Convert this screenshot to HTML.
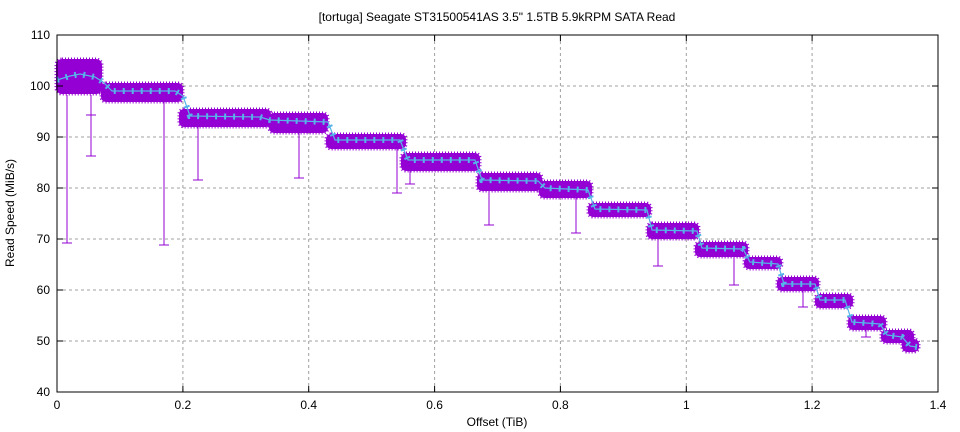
<!DOCTYPE html>
<html><head><meta charset="utf-8"><style>
body{margin:0;background:#fff}
svg{display:block;font-family:"Liberation Sans",sans-serif}
</style></head><body>
<svg width="960" height="432" viewBox="0 0 960 432">
<rect width="960" height="432" fill="#fff"/>
<text x="497" y="21" font-size="12" text-anchor="middle">[tortuga] Seagate ST31500541AS 3.5" 1.5TB 5.9kRPM SATA Read</text>
<g stroke="#a0a0a0" stroke-dasharray="3 3" stroke-width="1">
<line x1="182.9" y1="35" x2="182.9" y2="392"/><line x1="308.7" y1="35" x2="308.7" y2="392"/>
<line x1="434.6" y1="35" x2="434.6" y2="392"/><line x1="560.4" y1="35" x2="560.4" y2="392"/>
<line x1="686.3" y1="35" x2="686.3" y2="392"/><line x1="812.1" y1="35" x2="812.1" y2="392"/>
<line x1="57" y1="86" x2="938" y2="86"/><line x1="57" y1="137" x2="938" y2="137"/>
<line x1="57" y1="188" x2="938" y2="188"/><line x1="57" y1="239" x2="938" y2="239"/>
<line x1="57" y1="290" x2="938" y2="290"/><line x1="57" y1="341" x2="938" y2="341"/>
</g>
<g fill="#9400d3" stroke="#9400d3" stroke-width="3" stroke-dasharray="1 2">
<rect x="56" y="59" width="46" height="35" rx="6"/>
<rect x="101" y="83" width="82" height="19" rx="5"/>
<rect x="179" y="109" width="92" height="18" rx="5"/>
<rect x="269" y="113" width="59" height="20" rx="5"/>
<rect x="326" y="134" width="80" height="15" rx="5"/>
<rect x="401" y="153" width="79" height="18" rx="5"/>
<rect x="477" y="173" width="65" height="18" rx="5"/>
<rect x="539" y="181" width="53" height="17" rx="5"/>
<rect x="588" y="203" width="63" height="14" rx="5"/>
<rect x="647" y="223" width="52" height="16" rx="5"/>
<rect x="695" y="242" width="53" height="15" rx="5"/>
<rect x="744" y="257" width="38" height="12" rx="5"/>
<rect x="777" y="277" width="42" height="14" rx="5"/>
<rect x="815" y="294" width="38" height="14" rx="5"/>
<rect x="848" y="316" width="38" height="14" rx="5"/>
<rect x="881" y="330" width="33" height="13" rx="5"/>
<rect x="902" y="339" width="17" height="13" rx="5"/>
</g>
<g stroke="#9400d3" stroke-width="1">
<path d="M67 95V243M62 243h10M91 95V156M86 156h10M86 115h10M164 100V245M159 245h10M198 125V180M193 180h10M299 132V178M294 178h10M397 148V193M392 193h10M410 170V184M405 184h10M489 190V225M484 225h10M576 197V233M571 233h10M658 238V266M653 266h10M734 256V285M729 285h10M803 290V307M798 307h10M866 329V337M861 337h10"/>
</g>
<polyline fill="none" stroke="#56b4e9" stroke-width="1.2" points="57,80 70,76 80,74 95,77 103,82 112,91 175,91 183,96 190,116 260,117 270,120 328,122 335,140 400,140 408,160 475,160 482,180 538,181 545,188 588,190 595,209 647,210 652,230 697,231 702,248 743,249 750,262 778,264 784,284 815,284 820,300 845,300 852,322 880,324 887,335 902,337 910,346 917,347"/>
<polyline fill="none" stroke="#56b4e9" stroke-width="6" stroke-dasharray="2 7" points="57,80 70,76 80,74 95,77 103,82 112,91 175,91 183,96 190,116 260,117 270,120 328,122 335,140 400,140 408,160 475,160 482,180 538,181 545,188 588,190 595,209 647,210 652,230 697,231 702,248 743,249 750,262 778,264 784,284 815,284 820,300 845,300 852,322 880,324 887,335 902,337 910,346 917,347"/>
<rect x="57" y="35" width="881" height="357" fill="none" stroke="#000" stroke-width="1"/>
<g stroke="#000" stroke-width="1">
<path d="M182.9 392v-6M308.7 392v-6M434.6 392v-6M560.4 392v-6M686.3 392v-6M812.1 392v-6M182.9 35v6M308.7 35v6M434.6 35v6M560.4 35v6M686.3 35v6M812.1 35v6"/>
<path d="M57 86h6M57 137h6M57 188h6M57 239h6M57 290h6M57 341h6M938 86h-6M938 137h-6M938 188h-6M938 239h-6M938 290h-6M938 341h-6"/>
</g>
<g font-size="12" text-anchor="end">
<text x="50" y="39">110</text><text x="50" y="90">100</text><text x="50" y="141">90</text>
<text x="50" y="192">80</text><text x="50" y="243">70</text><text x="50" y="294">60</text>
<text x="50" y="345">50</text><text x="50" y="396">40</text>
</g>
<g font-size="12" text-anchor="middle">
<text x="57" y="409">0</text><text x="182.9" y="409">0.2</text><text x="308.7" y="409">0.4</text>
<text x="434.6" y="409">0.6</text><text x="560.4" y="409">0.8</text><text x="686.3" y="409">1</text>
<text x="812.1" y="409">1.2</text><text x="938" y="409">1.4</text>
<text x="497" y="426">Offset (TiB)</text>
<text transform="translate(14 213) rotate(-90)">Read Speed (MiB/s)</text>
</g>
</svg>
</body></html>
